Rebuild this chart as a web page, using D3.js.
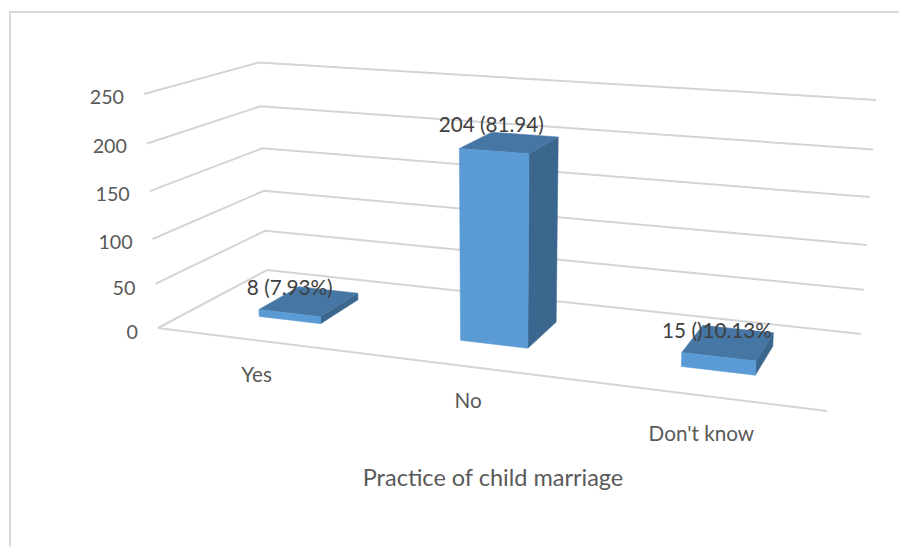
<!DOCTYPE html>
<html><head><meta charset="utf-8">
<script src="https://cdn.jsdelivr.net/npm/d3@7"></script>
<style>html,body{margin:0;padding:0;background:#fff}svg{display:block}text{font-family:Lato,"Open Sans",sans-serif}</style>
</head><body><div id="chart"></div>
<script>
const categories = ["Yes", "No", "Don't know"];
const values = [8, 204, 15];
const dataLabels = ["8 (7.93%)", "204 (81.94)", "15 ()10.13%"];
const yTicks = [0, 50, 100, 150, 200, 250];
const axisTitle = "Practice of child marriage";

const W = 899, H = 547;
const svg = d3.select("#chart").append("svg").attr("width", W).attr("height", H);

// perspective camera: floor quad [front-left, front-right, back-right, back-left],
// image of the top of the value axis at the front-left corner, and vertical foreshortening
const floorQuad = [[158,328],[827,411],[861,334],[267,270]];
const axisTop = [144,94];
const vertical = -.04;
function camera(q, top, s){
  const [[x0,y0],[x1,y1],[x2,y2],[x3,y3]] = q;
  const dx1=x1-x2, dx2=x3-x2, sx=x0-x1+x2-x3, dy1=y1-y2, dy2=y3-y2, sy=y0-y1+y2-y3;
  const det=dx1*dy2-dx2*dy1, g=(sx*dy2-dx2*sy)/det, h=(dx1*sy-sx*dy1)/det;
  const a=x1-x0+g*x1, b=x3-x0+h*x3, d=y1-y0+g*y1, e=y3-y0+h*y3;
  const p=top[0]*(1+s)-x0, r=top[1]*(1+s)-y0;
  return (u,v,t)=>{const w=g*u+h*v+1+s*t; return [(a*u+b*v+x0+p*t)/w,(d*u+e*v+y0+r*t)/w];};
}
const cam = camera(floorQuad, axisTop, vertical);
const yScale = d3.scaleLinear().domain(yTicks).range([0,.195,.39,.595,.795,1]);
const xBand = d3.scaleBand().domain(categories).range([0,1]).paddingInner(.685).paddingOuter(.3425);
const depth0 = .305, depth1 = .695;
const project = (u,v,val)=>cam(u,v,yScale(val));
const line = d3.line();
const mid = c => xBand(c)+xBand.bandwidth()/2;

// chart frame
svg.append("path").attr("d","M10,547V12H899").attr("fill","none").attr("stroke","#d9d9d9").attr("stroke-width",2);

// gridlines
svg.append("g").selectAll("path").data(yTicks).join("path")
  .attr("d",t=>line([project(0,0,t),project(0,1,t),project(1,1,t)]))
  .attr("fill","none").attr("stroke","#d4d4d4").attr("stroke-width",2);
svg.append("path").attr("d",line([project(0,0,0),project(1,0,0)]))
  .attr("fill","none").attr("stroke","#d4d4d4").attr("stroke-width",2);

// bars
const bars = svg.append("g").selectAll("g").data(categories).join("g");
bars.each(function(c,i){
  const u0=xBand(c), u1=u0+xBand.bandwidth(), v=values[i], g=d3.select(this);
  const face=(pts,fill)=>g.append("path").attr("d",line(pts)+"Z").attr("fill",fill).attr("stroke",fill).attr("stroke-width",.5);
  face([project(u1,depth0,0),project(u1,depth1,0),project(u1,depth1,v),project(u1,depth0,v)],"#3b678f");
  face([project(u0,depth0,v),project(u1,depth0,v),project(u1,depth1,v),project(u0,depth1,v)],"#4676a3");
  face([project(u0,depth0,0),project(u1,depth0,0),project(u1,depth0,v),project(u0,depth0,v)],"#5b9bd5");
});

// axis labels
const tickOffset = d3.scaleLinear().domain([0,250]).range([11,9.5]);
svg.append("g").selectAll("text").data(yTicks).join("text")
  .attr("x",t=>project(0,0,t)[0]-20).attr("y",t=>project(0,0,t)[1]+tickOffset(t))
  .attr("text-anchor","end").attr("font-size",19.7).attr("fill","#595959").text(t=>t);
const catOffset = d3.scaleLinear().domain([1/6,.5,5/6]).range([35,35,39]);
svg.append("g").selectAll("text").data(categories).join("text")
  .attr("x",c=>project(mid(c),0,0)[0])
  .attr("y",c=>project(mid(c),0,0)[1]+catOffset(mid(c))+7)
  .attr("text-anchor","middle").attr("font-size",20.7).attr("fill","#595959").text(c=>c);
svg.append("text").attr("x",493).attr("y",486).attr("text-anchor","middle")
  .attr("font-size",23.5).attr("fill","#595959").text(axisTitle);

// data labels
const labelDx = d3.scaleLinear().domain([1/6,.5,5/6]).range([-19.5,-18.5,-11.5]);
const labelDy = d3.scaleLinear().domain([1/6,.5,5/6]).range([-6,-11,-4]);
svg.append("g").selectAll("text").data(categories).join("text")
  .attr("x",(c,i)=>project(mid(c),.5,values[i])[0]+labelDx(mid(c)))
  .attr("y",(c,i)=>project(mid(c),.5,values[i])[1]+labelDy(mid(c)))
  .attr("text-anchor","middle").attr("font-size",20.7).attr("fill","#404040").text((c,i)=>dataLabels[i]);
</script></body></html>
